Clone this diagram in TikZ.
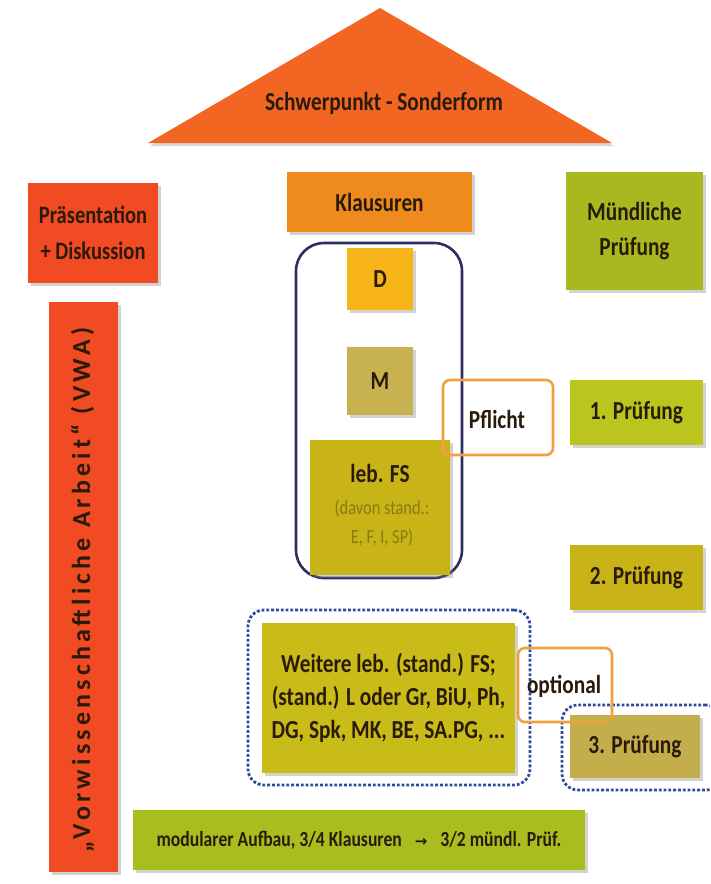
\documentclass[tikz,border=0pt]{standalone}
\usepackage{fontspec}
\setmainfont{Carlito}[FakeStretch=0.82]
\newfontfamily\vwafont{Carlito}[LetterSpace=16]
\newfontfamily\arrowfont{DejaVu Sans}
\usetikzlibrary{shadows}
\definecolor{roofc}{HTML}{F26522}
\definecolor{redc}{HTML}{F04B22}
\definecolor{klausc}{HTML}{EF8A1E}
\definecolor{dc}{HTML}{F7B519}
\definecolor{mc}{HTML}{C7B24F}
\definecolor{fsc}{HTML}{C9B418}
\definecolor{greenc}{HTML}{A8B81E}
\definecolor{green2c}{HTML}{BCC51E}
\definecolor{weitc}{HTML}{C9BC18}
\definecolor{tanc}{HTML}{C4AE4C}
\definecolor{botc}{HTML}{AABD1E}
\definecolor{navyc}{HTML}{2B2F5E}
\definecolor{dotc}{HTML}{2E4A9A}
\definecolor{linec}{HTML}{F0A040}
\definecolor{txtc}{HTML}{2A1A0A}
\definecolor{subc}{HTML}{8A7A10}
\tikzset{
  bigfont/.style={font=\fontsize{26}{35}\selectfont\bfseries},
  box/.style={rectangle, inner sep=2pt, align=center, text=txtc, bigfont,
    drop shadow={opacity=0.35, shadow xshift=3pt, shadow yshift=-3pt}},
  outlinebox/.style={rectangle, draw=linec, line width=2.6pt, rounded corners=7pt},
  navybox/.style={rectangle, draw=navyc, line width=2.6pt, rounded corners=28pt},
  dotbox/.style={rectangle, draw=dotc, line width=2.8pt, dotted, rounded corners=16pt},
}
\begin{document}
\begin{tikzpicture}[x=1pt,y=-1pt]
\useasboundingbox (0,0) rectangle (710,884);
\clip (0,0) rectangle (710,884);
\fill[white] (0,0) rectangle (710,884);
% roof
\coordinate (apex) at (380,8);
\coordinate (bl) at (148,143);
\coordinate (br) at (612,143);
\fill[roofc, drop shadow={opacity=0.3, shadow xshift=2pt, shadow yshift=-3pt}] (apex) -- (br) -- (bl) -- cycle;
\node[text=txtc, bigfont] (roof) at (384,103) {Schwerpunkt - Sonderform};
% left column
\node[box, fill=redc, minimum width=130pt, minimum height=100pt, font=\fontsize{25}{36}\selectfont\bfseries] (praes) at (93,233) {Präsentation\\+ Diskussion};
\node[box, fill=redc, minimum width=69pt, minimum height=570pt] (vwa) at (83.5,587) {};
\node[rotate=90, text=txtc, font=\vwafont\fontsize{26}{28}\selectfont\bfseries] (vwatext) at (82.5,590) {„Vorwissenschaftliche Arbeit“ (VWA)};
% middle column
\node[box, fill=klausc, minimum width=185pt, minimum height=60pt] (klaus) at (379.5,202) {Klausuren};
\node[navybox, minimum width=166pt, minimum height=335pt] (pgroup) at (379,410.5) {};
\node[box, fill=dc, minimum width=66pt, minimum height=62pt] (d) at (380,279) {D};
\node[box, fill=mc, minimum width=66pt, minimum height=68pt] (m) at (380,381) {M};
\node[box, fill=fsc, minimum width=140pt, minimum height=135pt] (fs) at (380,507.5) {};
\node[text=txtc, bigfont] (fst) at (380,473) {leb. FS};
\node[text=subc, align=center, font=\fontsize{20}{29}\selectfont] (fssub) at (382,523) {(davon stand.:\\E, F, I, SP)};
\node[outlinebox, minimum width=110pt, minimum height=75pt] (pflicht) at (498,417.5) {};
\node[text=txtc, bigfont] (pflichtt) at (497,419) {Pflicht};
% lower middle
\node[dotbox, minimum width=282pt, minimum height=175pt] (ogroup) at (389,697.5) {};
\node[box, fill=weitc, minimum width=253pt, minimum height=150pt, font=\fontsize{26}{33}\selectfont\bfseries] (weit) at (388.5,698) {Weitere leb. (stand.) FS;\\(stand.) L oder Gr, BiU, Ph,\\DG, Spk, MK, BE, SA.PG, ...};
% right column
\node[box, fill=greenc, minimum width=137pt, minimum height=118pt] (muend) at (634.5,231) {Mündliche\\Prüfung};
\node[box, fill=green2c, minimum width=133pt, minimum height=65pt] (p1) at (636.5,412.5) {1. Prüfung};
\node[box, fill=fsc, minimum width=133pt, minimum height=65pt] (p2) at (636.5,577.5) {2. Prüfung};
\node[dotbox, minimum width=160pt, minimum height=85pt] (p3group) at (642,747.5) {};
\node[box, fill=tanc, minimum width=130pt, minimum height=63pt] (p3) at (635,746.5) {3. Prüfung};
\node[outlinebox, minimum width=94pt, minimum height=74pt] (opt) at (565,685) {};
\node[text=txtc, bigfont] (optt) at (564,686) {optional};
% bottom bar
\node[box, fill=botc, minimum width=452pt, minimum height=60pt, font=\fontsize{21.5}{24}\selectfont\bfseries] (bottom) at (359,840) {modularer Aufbau, 3/4 Klausuren\hspace{13pt}{\arrowfont\bfseries\fontsize{15}{18}\selectfont →}\hspace{13pt}3/2 mündl. Prüf.};
\end{tikzpicture}
\end{document}
